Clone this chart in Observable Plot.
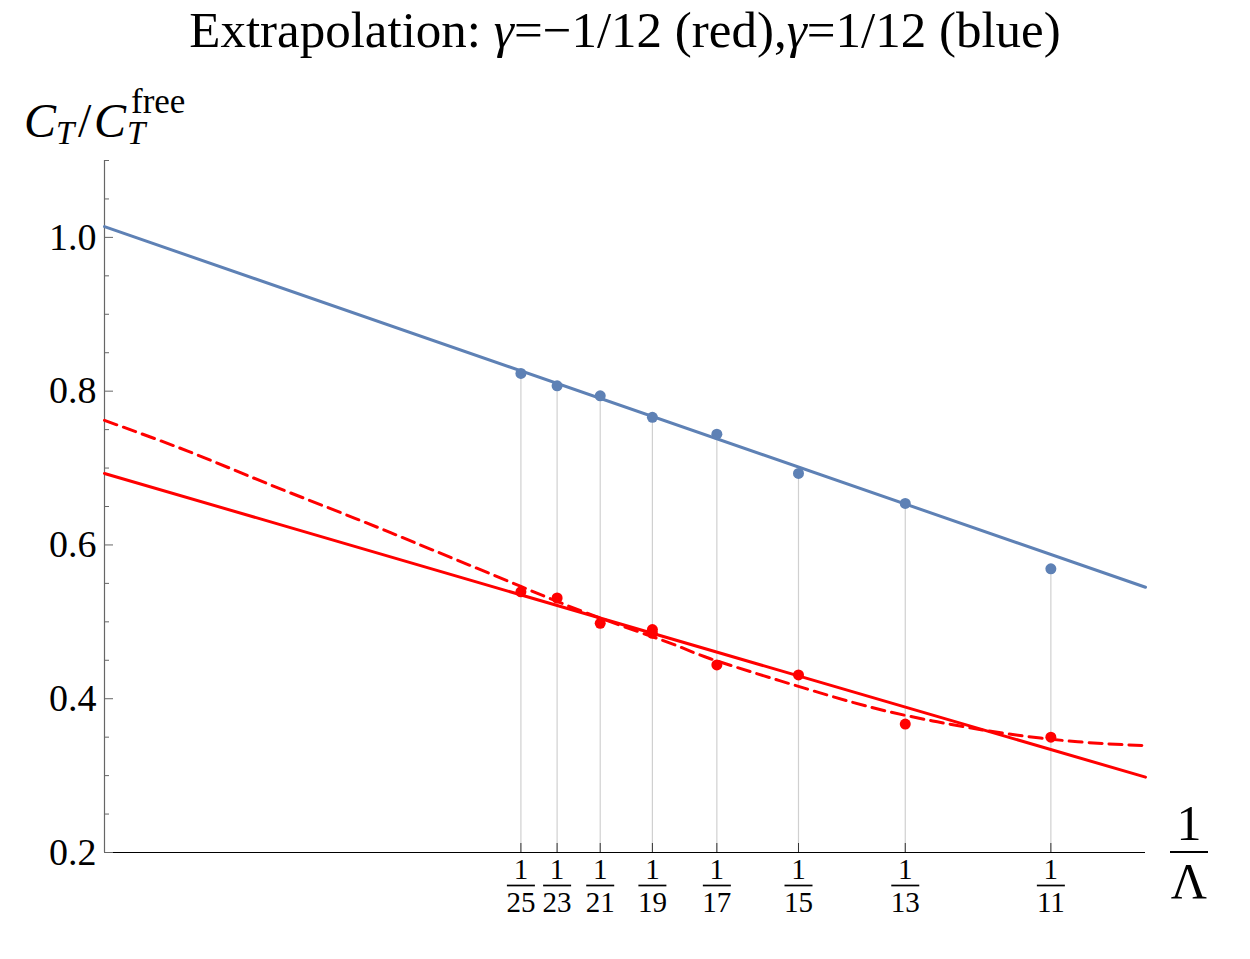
<!DOCTYPE html>
<html>
<head>
<meta charset="utf-8">
<script src="https://cdn.jsdelivr.net/npm/d3@7"></script>
<script src="https://cdn.jsdelivr.net/npm/@observablehq/plot@0.6"></script>
<style>
  body { margin: 0; background: #fff; font-family: "Liberation Serif", "Times New Roman", serif; }
  #title { height: 60px; line-height: 60px; font-size: 51px; text-align: center; white-space: nowrap; color: #000; }
  #chart svg { display: block; }
</style>
</head>
<body>
<div id="title">Extrapolation: <i>γ</i>=−1/12 (red),<i>γ</i>=1/12 (blue)</div>
<div id="chart"></div>
<script>
// Cutoff values Λ (plotted as 1/Λ)
const denominators = [25, 23, 21, 19, 17, 15, 13, 11];
// C_T / C_T^free for γ = 1/12
const blueValues = [0.823, 0.807, 0.794, 0.766, 0.744, 0.693, 0.654, 0.569];
// C_T / C_T^free for γ = −1/12 (two runs at Λ = 19)
const redDenominators = [25, 23, 21, 19, 19, 17, 15, 13, 11];
const redValues = [0.539, 0.531, 0.498, 0.490, 0.485, 0.444, 0.431, 0.367, 0.350];

// Linear extrapolations (endpoints at 1/Λ = 0 and 1/Λ = 0.1)
const fitX = [0, 0.1];
const blueFitY = [1.014, 0.545];
const redFitY = [0.693, 0.298];

// Higher-order extrapolation for γ = −1/12
const redCurveX = [0, 0.008, 0.0156, 0.024, 0.0316, 0.040, 0.047, 0.0544, 0.0582, 0.0657, 0.0736, 0.080, 0.0864, 0.0935, 0.100];
const redCurveY = [0.762, 0.722, 0.680, 0.635, 0.593, 0.546, 0.508, 0.472, 0.452, 0.420, 0.389, 0.370, 0.355, 0.344, 0.339];

// Axis settings
const xDomain = [0, 0.1];
const yDomain = [0.2, 1.1];
const yMajorTicks = [0.2, 0.4, 0.6, 0.8, 1.0];
const yMinorTicks = [0.25, 0.3, 0.35, 0.45, 0.5, 0.55, 0.65, 0.7, 0.75, 0.85, 0.9, 0.95, 1.05, 1.1];

const BLUE = "#5e81b5";
const RED = "#ff0000";

const blue = denominators.map((d, i) => ({x: 1 / d, y: blueValues[i]}));
const red = redDenominators.map((d, i) => ({x: 1 / d, y: redValues[i]}));
const blueFit = fitX.map((x, i) => ({x, y: blueFitY[i]}));
const redFit = fitX.map((x, i) => ({x, y: redFitY[i]}));
const redCurve = redCurveX.map((x, i) => ({x, y: redCurveY[i]}));
const xTicks = denominators.map(d => 1 / d);

// horizontal stroke used as the fraction bar under each tick numerator
const fractionBar = {
  draw(context) {
    context.moveTo(-14, 0);
    context.lineTo(14, 0);
  }
};

const chart = Plot.plot({
  width: 1250,
  height: 899,
  marginLeft: 104,
  marginRight: 105,
  marginTop: 100,
  marginBottom: 107,
  style: {fontFamily: "Liberation Serif, Times New Roman, serif", background: "#fff", color: "#000"},
  x: {domain: xDomain, label: null},
  y: {domain: yDomain, label: null},
  marks: [
    // drop lines from the axis to each γ = 1/12 point
    Plot.ruleX(blue, {x: "x", y1: () => yDomain[0], y2: "y", stroke: "#d0d0d0", strokeWidth: 1.2}),
    // axis spines
    Plot.ruleX([0], {stroke: "#666", strokeWidth: 1.2}),
    Plot.ruleY([yDomain[0]], {stroke: "#000", strokeWidth: 1.2}),
    // inward ticks
    Plot.axisY({ticks: yMajorTicks, tickSize: -9, fill: "none", stroke: "#666", label: null}),
    Plot.axisY({ticks: yMinorTicks, tickSize: -5, fill: "none", stroke: "#666", label: null}),
    Plot.axisY({ticks: yMajorTicks, tickSize: 0, tickPadding: 8, tickFormat: d => d.toFixed(1), fontSize: 38, fill: "#000", label: null}),
    Plot.axisX({ticks: xTicks, tickSize: -9, fill: "none", stroke: "#333", label: null}),
    // fraction tick labels 1/Λ
    Plot.text(xTicks, {x: d => d, text: () => "1", frameAnchor: "bottom", lineAnchor: "middle", dy: 17, fontSize: 29, fill: "#000"}),
    Plot.dot(xTicks, {x: d => d, frameAnchor: "bottom", dy: 33, symbol: fractionBar, fill: "none", stroke: "#000", strokeWidth: 1.7}),
    Plot.text(denominators, {x: d => 1 / d, text: d => String(d), frameAnchor: "bottom", lineAnchor: "middle", dy: 50, fontSize: 29, fill: "#000"}),
    // extrapolations
    Plot.line(blueFit, {x: "x", y: "y", stroke: BLUE, strokeWidth: 3}),
    Plot.line(redFit, {x: "x", y: "y", stroke: RED, strokeWidth: 3}),
    Plot.line(redCurve, {x: "x", y: "y", stroke: RED, strokeWidth: 3, strokeDasharray: "13,7", curve: "natural"}),
    // data points
    Plot.dot(blue, {x: "x", y: "y", r: 5.5, fill: BLUE}),
    Plot.dot(red, {x: "x", y: "y", r: 5.5, fill: RED})
  ]
});

document.getElementById("chart").appendChild(chart);

// axis titles with sub- and superscripts
const svg = d3.select(chart);
const yl = svg.append("g")
  .attr("font-family", "Liberation Serif, Times New Roman, serif")
  .attr("fill", "#000")
  .attr("text-anchor", "start");
yl.append("text").attr("x", 24).attr("y", 77).attr("font-size", 48).attr("font-style", "italic").text("C");
yl.append("text").attr("x", 56).attr("y", 84).attr("font-size", 33).attr("font-style", "italic").text("T");
yl.append("text").attr("x", 78).attr("y", 77).attr("font-size", 48).text("/");
yl.append("text").attr("x", 94).attr("y", 77).attr("font-size", 48).attr("font-style", "italic").text("C");
yl.append("text").attr("x", 131).attr("y", 53).attr("font-size", 35).text("free");
yl.append("text").attr("x", 127).attr("y", 84).attr("font-size", 33).attr("font-style", "italic").text("T");

const xl = svg.append("g")
  .attr("font-family", "Liberation Serif, Times New Roman, serif")
  .attr("fill", "#000")
  .attr("text-anchor", "middle");
xl.append("text").attr("x", 1189).attr("y", 780).attr("font-size", 50).text("1");
xl.append("line").attr("x1", 1170).attr("x2", 1208).attr("y1", 792).attr("y2", 792).attr("stroke", "#000").attr("stroke-width", 2);
xl.append("text").attr("x", 1189).attr("y", 838).attr("font-size", 50).text("Λ");
</script>
</body>
</html>
